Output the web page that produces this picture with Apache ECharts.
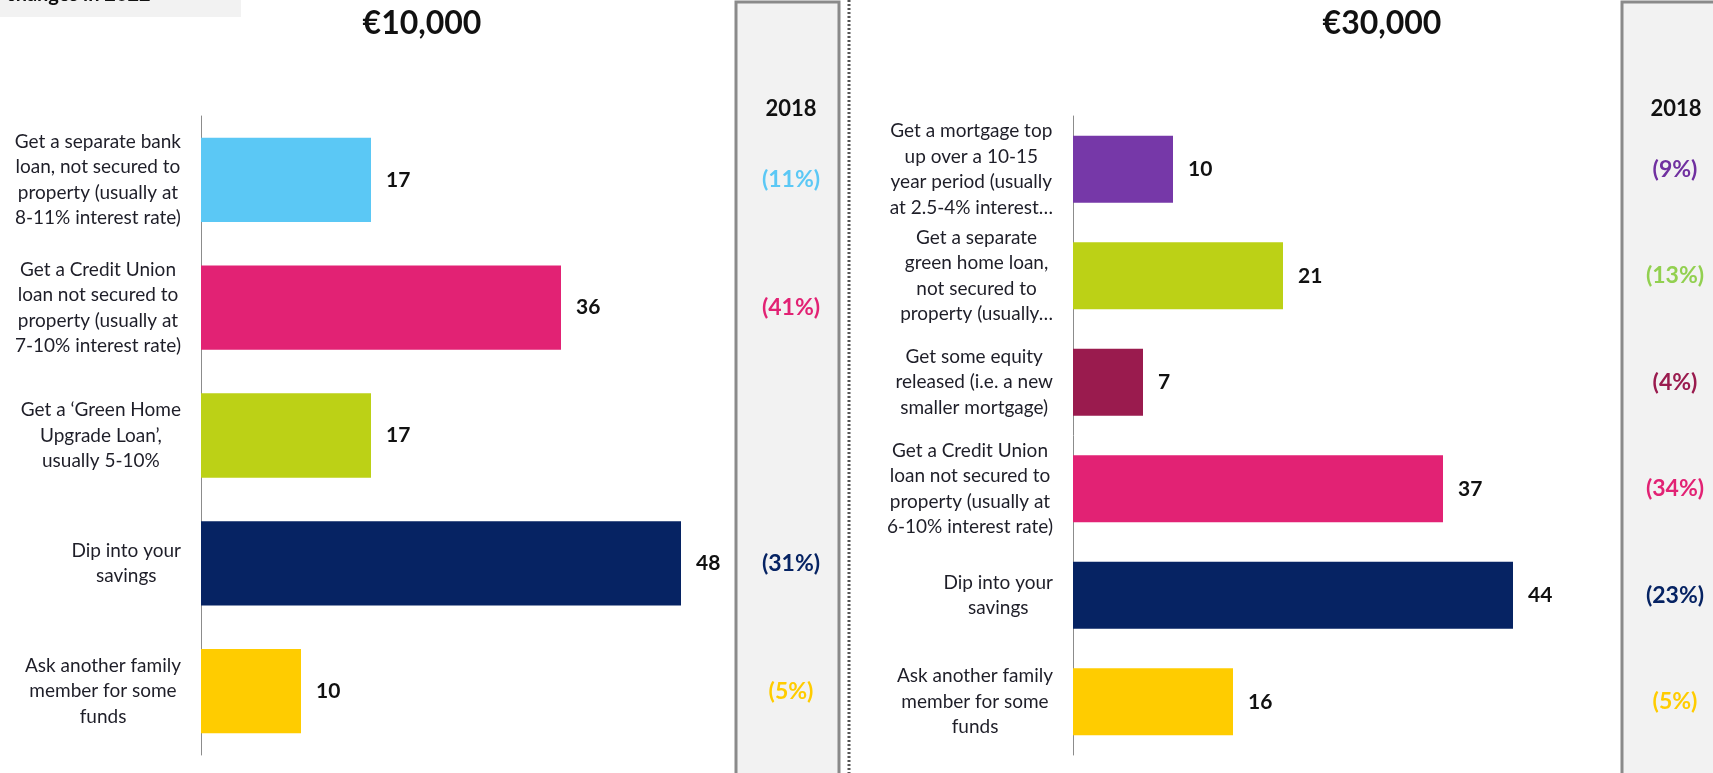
<!DOCTYPE html>
<html>
<head>
<meta charset="utf-8">
<title>Loan options</title>
<script src="https://cdn.jsdelivr.net/npm/echarts@6/dist/echarts.min.js"></script>
<style>
  html, body { margin: 0; padding: 0; background: #fff; }
  #main { width: 1713px; height: 773px; }
</style>
</head>
<body>
<div id="main"></div>
<script>
// €10,000 - left chart
var catsL = [
    'Get a separate bank\nloan, not secured to\nproperty (usually at\n8-11% interest rate)',
    'Get a Credit Union\nloan not secured to\nproperty (usually at\n7-10% interest rate)',
    'Get a \u2018Green Home\nUpgrade Loan\u2019,\nusually 5-10%',
    'Dip into your\nsavings',
    'Ask another family\nmember for some\nfunds'
];
var valsL = [17, 36, 17, 48, 10];
var colorsL = ['#5BC8F5', '#E22274', '#BCD116', '#062363', '#FFCC00'];
var prevL = ['(11%)', '(41%)', '', '(31%)', '(5%)'];
var prevColorsL = ['#5BC8F5', '#E22274', '#BCD116', '#062363', '#FFCC00'];

// €30,000 - right chart
var catsR = [
    'Get a mortgage top\nup over a 10-15\nyear period (usually\nat 2.5-4% interest\u2026',
    'Get a separate\ngreen home loan,\nnot secured to\nproperty (usually\u2026',
    'Get some equity\nreleased (i.e. a new\nsmaller mortgage)',
    'Get a Credit Union\nloan not secured to\nproperty (usually at\n6-10% interest rate)',
    'Dip into your\nsavings',
    'Ask another family\nmember for some\nfunds'
];
var valsR = [10, 21, 7, 37, 44, 16];
var colorsR = ['#7638A8', '#BCD116', '#9A1B4E', '#E22274', '#062363', '#FFCC00'];
var prevR = ['(9%)', '(13%)', '(4%)', '(34%)', '(23%)', '(5%)'];
var prevColorsR = ['#7030A0', '#92D050', '#9A1B4E', '#E22274', '#062363', '#FFCC00'];

var FONT = 'Lato, "Open Sans", sans-serif';

// 多行标签每行居中
function centerLines(v) {
    return v.split('\n').map(function (l) { return '{c|' + l + '}'; }).join('\n');
}

function catAxis(grid, cats) {
    return {
        type: 'category',
        gridIndex: grid,
        inverse: true,
        data: cats,
        axisLine: { lineStyle: { color: '#8c8c8c', width: 1 } },
        axisTick: { length: 8, lineStyle: { color: '#8c8c8c' } },
        axisLabel: {
            margin: 20,
            align: 'right',
            formatter: centerLines,
            rich: { c: { align: 'center', fontFamily: FONT, fontSize: 19, lineHeight: 25.5, color: '#1e1e28' } }
        }
    };
}

function prevAxis(grid, prev, cols, margin) {
    return {
        type: 'category',
        gridIndex: grid,
        inverse: true,
        position: 'right',
        data: prev,
        axisLine: { show: false },
        axisTick: { show: false },
        axisLabel: {
            margin: margin,
            align: 'center',
            fontFamily: FONT,
            fontSize: 23,
            fontWeight: 'bold',
            color: function (v, i) { return cols[i]; }
        }
    };
}

function barSeries(axisIdx, vals, cols, gap) {
    return {
        type: 'bar',
        xAxisIndex: axisIdx,
        yAxisIndex: axisIdx * 2,
        barCategoryGap: gap,
        data: vals.map(function (v, i) { return { value: v, itemStyle: { color: cols[i] } }; }),
        label: {
            show: true,
            position: 'right',
            distance: 15,
            fontFamily: FONT,
            fontSize: 21,
            fontWeight: 'bold',
            color: '#111'
        },
        silent: true
    };
}

var myChart = echarts.init(document.getElementById('main'));

var option = {
    backgroundColor: '#fff',
    animation: false,
    title: [
        { text: '\u20ac10,000', left: 417, top: 3, textAlign: 'center',
          textStyle: { fontFamily: FONT, fontSize: 32, fontWeight: 'bold', color: '#111' } },
        { text: '\u20ac30,000', left: 1377, top: 3, textAlign: 'center',
          textStyle: { fontFamily: FONT, fontSize: 32, fontWeight: 'bold', color: '#111' } }
    ],
    grid: [
        { left: 201, top: 116, width: 500, height: 639 },
        { left: 1073, top: 116, width: 500, height: 639 }
    ],
    xAxis: [
        { type: 'value', gridIndex: 0, min: 0, max: 50, show: false },
        { type: 'value', gridIndex: 1, min: 0, max: 50, show: false }
    ],
    yAxis: [
        catAxis(0, catsL),
        prevAxis(0, prevL, prevColorsL, 90),
        catAxis(1, catsR),
        prevAxis(1, prevR, prevColorsR, 102)
    ],
    series: [
        barSeries(0, valsL, colorsL, '34%'),
        barSeries(1, valsR, colorsR, '37%')
    ],
    graphic: [
        // 左上角灰色标题框（被截断）
        { type: 'rect', z: -10, shape: { x: 0, y: 0, width: 241, height: 17 }, style: { fill: '#f2f2f2' } },
        { type: 'text', z: -9, left: 6, top: -15,
          style: { text: 'changes in 2022', fontFamily: FONT, fontSize: 20, fontWeight: 'bold', fill: '#111' } },
        // 2018 对比框
        { type: 'rect', z: -10, shape: { x: 736, y: 2, width: 103, height: 780 },
          style: { fill: '#f2f2f2', stroke: '#8a8a8a', lineWidth: 3 } },
        { type: 'rect', z: -10, shape: { x: 1622, y: 2, width: 120, height: 780 },
          style: { fill: '#f2f2f2', stroke: '#8a8a8a', lineWidth: 3 } },
        { type: 'text', z: 5, x: 791, y: 109,
          style: { text: '2018', align: 'center', verticalAlign: 'middle', fontFamily: FONT, fontSize: 22, fontWeight: 'bold', fill: '#111' } },
        { type: 'text', z: 5, x: 1676, y: 109,
          style: { text: '2018', align: 'center', verticalAlign: 'middle', fontFamily: FONT, fontSize: 22, fontWeight: 'bold', fill: '#111' } },
        // 中间虚线
        { type: 'line', z: -10, shape: { x1: 849, y1: 0, x2: 849, y2: 773 },
          style: { stroke: '#555', lineWidth: 3, lineDash: [2, 2] } }
    ]
};

myChart.setOption(option);
</script>
</body>
</html>
